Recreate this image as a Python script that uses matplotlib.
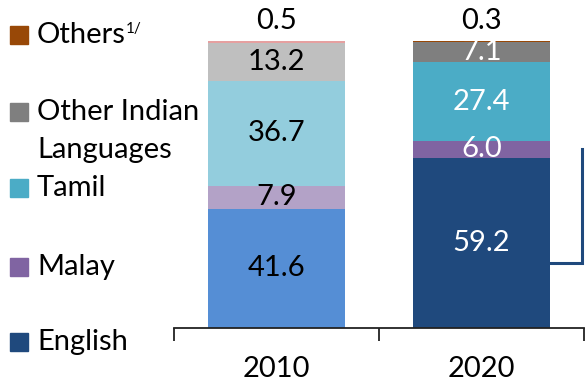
import matplotlib
matplotlib.use("Agg")
import matplotlib.pyplot as plt
from matplotlib.patches import Rectangle

plt.rcParams['font.family'] = ['Lato', 'DejaVu Sans']

# language shares (%) by census year, stacked bottom to top
years = ['2010', '2020']
languages = ['English', 'Malay', 'Tamil', 'Other Indian\nLanguages', 'Others']
english = [41.6, 59.2]
malay = [7.9, 6.0]
tamil = [36.7, 27.4]
other_indian = [13.2, 7.1]
others = [0.5, 0.3]
series = [english, malay, tamil, other_indian, others]

colors_2010 = ['#558ED5', '#B3A2C7', '#93CDDD', '#BFBFBF', '#E6A0A0']
colors_2020 = ['#1F497D', '#8064A2', '#4BACC6', '#7F7F7F', '#984807']
label_colors = [['black'] * 4, ['white'] * 4]

FS = 21

fig = plt.figure(figsize=(5.85, 3.85), dpi=100)
ax = fig.add_axes([174 / 585, 57 / 385, 410 / 585, 287 / 385])
ax.set_xlim(-0.5, 1.5)
ax.set_ylim(0, 100)

width = 0.67
for i, year in enumerate(years):
    bottom = 0
    cols = colors_2010 if i == 0 else colors_2020
    for k, vals in enumerate(series):
        v = vals[i]
        ax.bar(i, v, width=width, bottom=bottom, color=cols[k], linewidth=0)
        if k < 4:
            ax.text(i, bottom + v / 2, f'{v:.1f}', ha='center', va='center',
                    fontsize=FS, color=label_colors[i][k])
        else:
            ax.text(i, bottom + v + 2.5, f'{v:.1f}', ha='center', va='bottom',
                    fontsize=FS, color='black', clip_on=False)
        bottom += v

# axis: only the baseline with bracket-style ticks
for s in ['top', 'right', 'left']:
    ax.spines[s].set_visible(False)
ax.spines['bottom'].set_linewidth(1.3)
ax.spines['bottom'].set_color('#222222')
ax.set_yticks([])
ax.set_xticks([0, 1])
ax.set_xticklabels(years, fontsize=FS)
ax.tick_params(axis='x', which='major', length=0, pad=20)
ax.set_xticks([-0.5, 0.5, 1.5], minor=True)
ax.tick_params(axis='x', which='minor', length=9, width=1.3, color='#222222')

# connector bracket from the 2020 bar
ax.plot([1 + width / 2, 1.49, 1.49], [22.6, 22.6, 62.5], color='#1F497D',
        lw=2.2, clip_on=False, solid_joinstyle='miter')

# legend drawn by hand on the left
legend_y = [342, 267, 188, 112, 35]
for k, name in enumerate(languages):
    yc = 1 - legend_y[k] / 385
    fig.add_artist(Rectangle((10 / 585, yc - 9 / 385), 18 / 585, 18 / 385,
                             transform=fig.transFigure, color=colors_2020[k]))
    if '\n' in name:
        first, second = name.split('\n')
        fig.text(37 / 585, yc, first, fontsize=FS, va='center', ha='left')
        fig.text(37 / 585, 1 - 150 / 385, second, fontsize=FS, va='center', ha='left')
    else:
        t = fig.text(37 / 585, yc, name, fontsize=FS, va='center', ha='left')
        if name == 'Others':
            ax.annotate('1/', xy=(1, 1.0), xycoords=t, fontsize=11,
                        va='top', ha='left')

fig.savefig('out.png', dpi=100)
